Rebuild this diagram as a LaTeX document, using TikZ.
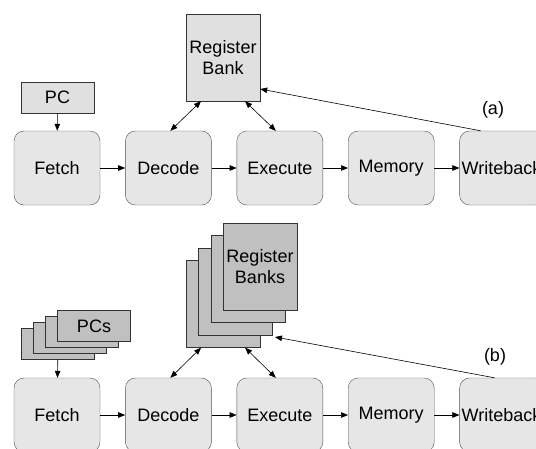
\documentclass[tikz,border=0pt]{standalone}
\usepackage{fontspec}
\setmainfont{Liberation Sans}
\usetikzlibrary{positioning, arrows.meta}

\definecolor{stagefill}{HTML}{E6E6E6}
\definecolor{regfill}{HTML}{E0E0E0}
\definecolor{stackfill}{HTML}{C0C0C0}
\definecolor{edgegray}{HTML}{505050}

\tikzset{
  label font/.style={font=\fontsize{18pt}{21pt}\selectfont},
  stage/.style={draw=edgegray, fill=stagefill, rounded corners=10pt, minimum width=86pt, minimum height=74pt, inner sep=0pt, label font},
  regbox/.style={draw=black!80, fill=regfill, minimum width=74pt, minimum height=87pt, inner sep=0pt, align=center, label font},
  pcbox/.style={draw=black!80, fill=regfill, minimum width=73pt, minimum height=31pt, inner sep=0pt, label font},
  link/.style={-{Triangle[length=7pt,width=5.5pt]}, line width=0.6pt},
  duplex/.style={{Triangle[length=7pt,width=5.5pt]}-{Triangle[length=7pt,width=5.5pt]}, line width=0.6pt},
}

\begin{document}
\begin{tikzpicture}[x=1pt, y=-1pt]
    \useasboundingbox (0,0) rectangle (536,448);

    % (a) single thread
    \node[stage] (fet1) at (57,168) {Fetch};
    \node[stage, right=25pt of fet1] (dec1) {Decode};
    \node[stage, right=25pt of dec1] (exe1) {Execute};
    \node[stage, right=25pt of exe1] (mem1) {Memory};
    \node[stage, right=25pt of mem1, text width=82pt, align=left] (wb1) {Writeback};

    \node[pcbox] (pc) at (57.5,97.5) {PC};
    \node[regbox] (rb) at (223,57.5) {Register\\Bank};
    \node[label font] (laba) at (493,110) {(a)};

    \draw[link] (pc) -- (fet1);
    \draw[link] (fet1) -- (dec1);
    \draw[link] (dec1) -- (exe1);
    \draw[link] (exe1) -- (mem1);
    \draw[link] (mem1) -- (wb1);
    \draw[duplex] ([xshift=2pt]dec1.north) -- ([xshift=-22pt]rb.south);
    \draw[duplex] ([xshift=-4pt]exe1.north) -- ([xshift=22pt]rb.south);
    \draw[link] ([xshift=-22pt]wb1.north) -- ([yshift=-31.5pt]rb.east);

    % (b) multithreaded
    \node[stage] (fet2) at (57,415) {Fetch};
    \node[stage, right=25pt of fet2] (dec2) {Decode};
    \node[stage, right=25pt of dec2] (exe2) {Execute};
    \node[stage, right=25pt of exe2] (mem2) {Memory};
    \node[stage, right=25pt of mem2, text width=82pt, align=left] (wb2) {Writeback};

    \foreach \i in {3,2,1}
        \node[pcbox, fill=stackfill] (pcs\i) at (94-12*\i,326+6*\i) {};
    \node[pcbox, fill=stackfill] (pcs0) at (94,326) {PCs};

    \foreach \i in {3,2,1}
        \node[regbox, fill=stackfill] (rbs\i) at (260-12.3*\i,266.5+12.5*\i) {};
    \node[regbox, fill=stackfill] (rbs0) at (260,266.5) {Register\\Banks};
    \coordinate (rbin) at (275,337);

    \node[label font] (labb) at (495,357) {(b)};

    \draw[link] (pcs3) -- (fet2);
    \draw[link] (fet2) -- (dec2);
    \draw[link] (dec2) -- (exe2);
    \draw[link] (exe2) -- (mem2);
    \draw[link] (mem2) -- (wb2);
    \draw[duplex] ([xshift=2pt]dec2.north) -- ([xshift=-22pt]rbs3.south);
    \draw[duplex] ([xshift=-4pt]exe2.north) -- ([xshift=22pt]rbs3.south);
    \draw[link] ([xshift=-8pt]wb2.north) -- (rbin);
\end{tikzpicture}
\end{document}
